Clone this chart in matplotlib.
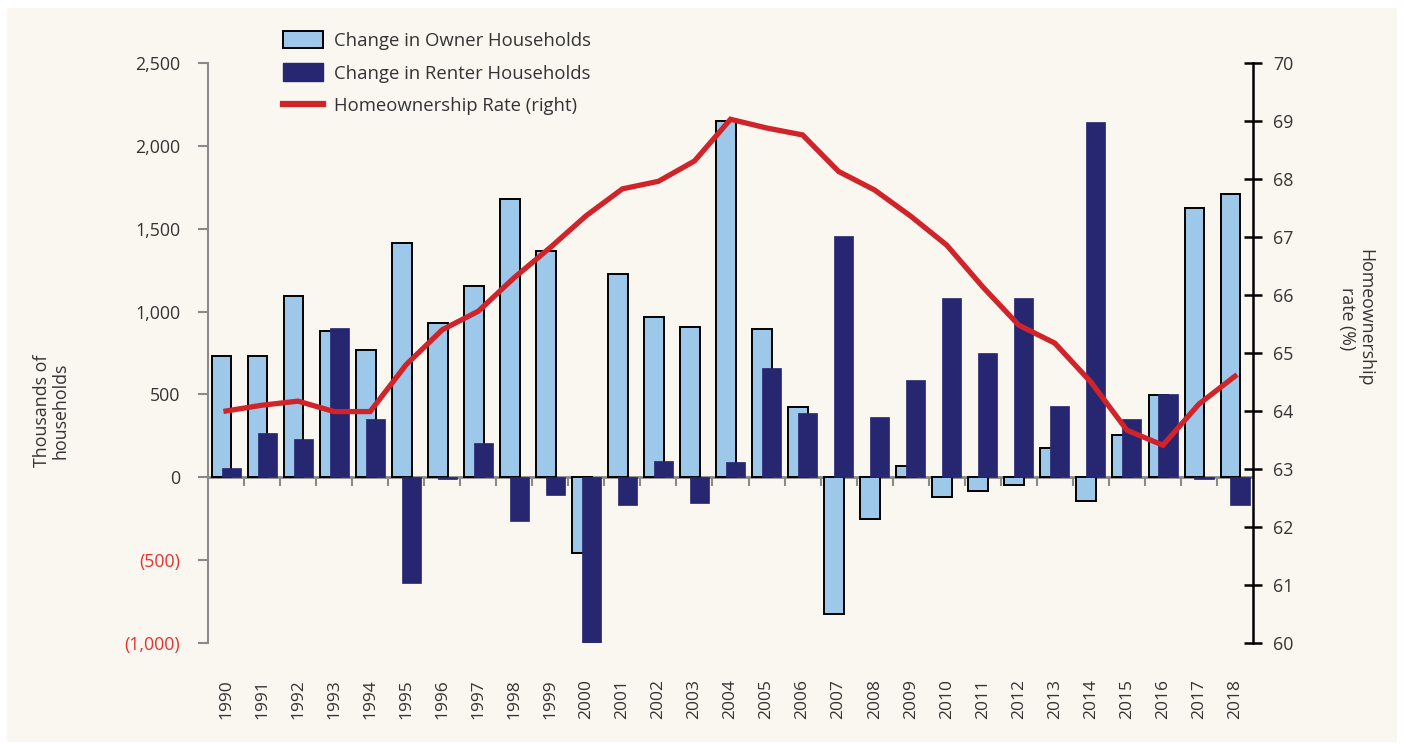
import matplotlib
matplotlib.use("Agg")
import matplotlib.pyplot as plt
import numpy as np
from matplotlib.patches import Rectangle
from matplotlib.lines import Line2D
from matplotlib.patches import Patch

plt.rcParams['font.family'] = ['Open Sans', 'DejaVu Sans']

years = [str(y) for y in range(1990, 2019)]
owner_change = [730, 730, 1095, 885, 766, 1415, 931, 1154, 1682, 1368,
                -455, 1227, 966, 905, 2148, 895, 424, -828, -252, 67,
                -121, -85, -48, 176, -145, 257, 495, 1627, 1709]
renter_change = [55, 269, 233, 903, 350, -638, -12, 208, -262, -107,
                 -1000, -165, 101, -155, 91, 657, 386, 1458, 362, 586,
                 1081, 752, 1081, 433, 2144, 350, 503, -8, -165]
ownership_rate = [64.0, 64.1, 64.17, 63.99, 63.99, 64.8, 65.4, 65.72, 66.3, 66.82,
                  67.37, 67.83, 67.96, 68.31, 69.03, 68.88, 68.76, 68.13, 67.81, 67.36,
                  66.86, 66.14, 65.48, 65.17, 64.5, 63.67, 63.41, 64.12, 64.6]

left_ticks = [-1000, -500, 0, 500, 1000, 1500, 2000, 2500]
left_labels = ['(1,000)', '(500)', '0', '500', '1,000', '1,500', '2,000', '2,500']
right_ticks = [60, 61, 62, 63, 64, 65, 66, 67, 68, 69, 70]

OWNER = '#9DC8EA'
RENTER = '#262671'
RED = '#D0232A'
GRAY = '#8A8A8A'
TXT = '#333333'
NEG = '#E8312F'
FS = 12.8

fig = plt.figure(figsize=(14.03, 7.44), dpi=100, facecolor='white')
fig.patches.append(Rectangle((7/1403, 2/744), 1390/1403, 734/744, transform=fig.transFigure,
                             facecolor='#FAF7F0', edgecolor='none', zorder=-10))

ax = fig.add_axes([208/1403, 1 - 643/744, 1045/1403, 580/744])
ax.set_facecolor('none')
x = np.arange(len(years))
ax.bar(x - 0.125, owner_change, width=0.55, color=OWNER, edgecolor='black', linewidth=1.4, zorder=2)
ax.bar(x + 0.14, renter_change, width=0.53, color=RENTER, edgecolor=RENTER, linewidth=0.5, zorder=3)

ax.set_xlim(-0.5, len(years) - 0.5)
ax.set_ylim(-1000, 2500)
ax.axhline(0, color=GRAY, lw=2, zorder=1)
ax.vlines(x[:-1] + 0.5, 0, -55, color=GRAY, lw=1.5, zorder=1)

for s in ['top', 'right', 'bottom']:
    ax.spines[s].set_visible(False)
ax.spines['left'].set_color(GRAY)
ax.spines['left'].set_linewidth(1.5)
ax.set_yticks(left_ticks)
ax.set_yticklabels(left_labels, fontsize=FS)
ax.tick_params(axis='y', colors=GRAY, length=7, width=1.5, pad=13)
for t, v in zip(ax.get_yticklabels(), left_ticks):
    t.set_color(NEG if v < 0 else TXT)
ax.set_xticks(x)
ax.set_xticklabels(years, rotation=90, fontsize=12.5, color=TXT)
ax.tick_params(axis='x', length=0, pad=26)
ax.set_ylabel('Thousands of\nhouseholds', fontsize=FS, color=TXT, linespacing=1.0)
ax.yaxis.set_label_coords(-0.133, 0.40)

ax2 = ax.twinx()
ax2.plot(x, ownership_rate, color=RED, lw=3.8, solid_joinstyle='miter', zorder=5)
ax2.set_ylim(60, 70)
ax2.set_yticks(right_ticks)
ax2.set_yticklabels([str(t) for t in right_ticks], fontsize=FS, color=TXT)
ax2.tick_params(axis='y', direction='inout', length=13, width=1.8, color='black', pad=8)
for s in ['top', 'left', 'bottom']:
    ax2.spines[s].set_visible(False)
ax2.spines['right'].set_color('black')
ax2.spines['right'].set_linewidth(1.8)
ax2.set_ylabel('Homeownership\nrate (%)', fontsize=FS, color=TXT, rotation=-90, linespacing=1.0,
               va='center', ha='center')
ax2.yaxis.set_label_coords(1.0986, 0.56)

handles = [Patch(facecolor=OWNER, edgecolor='black', linewidth=1.4),
           Patch(facecolor=RENTER, edgecolor=RENTER),
           Line2D([], [], color=RED, lw=4.5)]
labels = ['Change in Owner Households', 'Change in Renter Households', 'Homeownership Rate (right)']
fig.legend(handles, labels, loc='upper left', bbox_to_anchor=(266/1403, 1 - 14/744),
           frameon=False, fontsize=13.3, labelcolor=TXT, handlelength=2.2, handleheight=1.1,
           labelspacing=0.74, handletextpad=0.6)

fig.savefig('out.png', dpi=100, facecolor='white')
